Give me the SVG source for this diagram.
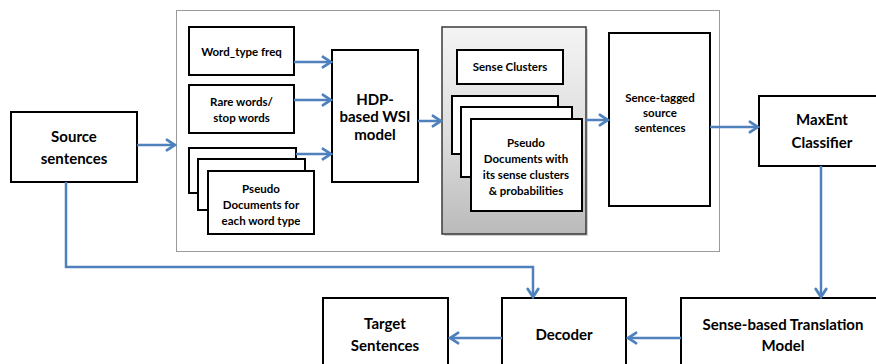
<svg xmlns="http://www.w3.org/2000/svg" width="876" height="364" viewBox="0 0 876 364">
  <defs>
    <linearGradient id="panelFill" x1="0" y1="0" x2="0" y2="1">
      <stop offset="0" stop-color="#f4f4f4"/>
      <stop offset="0.55" stop-color="#dcdcdc"/>
      <stop offset="1" stop-color="#bababa"/>
    </linearGradient>
    <marker id="ah" viewBox="0 0 12 14" refX="10" refY="7" markerWidth="12" markerHeight="14" markerUnits="userSpaceOnUse" orient="auto">
      <path d="M2,1.8 L10,7 L2,12.2" fill="none" stroke="#4f81bd" stroke-width="2.8" stroke-linecap="round" stroke-linejoin="miter"/>
    </marker>
  </defs>
  <style>
    .box{fill:#ffffff;stroke:#000000;stroke-width:2}
    .frame{fill:#ffffff;stroke:#9a9a9a;stroke-width:1}
    .panel{fill:url(#panelFill);stroke:#3a3a3a;stroke-width:1.5}
    .t{font-family:Lato,"Liberation Sans",sans-serif;font-weight:bold;fill:#000000;text-anchor:middle}
    .s11{font-size:11.5px}
    .s14{font-size:15px}
    .conn{fill:none;stroke:#4f81bd;stroke-width:2.5;marker-end:url(#ah)}
  </style>

  <rect width="876" height="364" fill="#ffffff"/>

  <!-- WSI pipeline frame -->
  <g id="wsi-frame">
    <rect class="frame" x="176.5" y="10.5" width="543" height="241"/>
  </g>

  <g id="source">
    <rect class="box" x="11" y="112" width="126" height="70"/>
    <text class="t s14" x="74" y="142">Source</text>
    <text class="t s14" x="74" y="164">sentences</text>
  </g>

  <g id="word-type-freq">
    <rect class="box" x="189" y="27" width="105" height="48"/>
    <text class="t s11" x="241.5" y="56">Word_type freq</text>
  </g>

  <g id="rare-words">
    <rect class="box" x="189" y="85" width="105" height="48"/>
    <text class="t s11" x="241.5" y="106">Rare words/</text>
    <text class="t s11" x="241.5" y="122">stop words</text>
  </g>

  <g id="pseudo-docs">
    <rect class="box" x="189" y="148" width="107" height="45"/>
    <rect class="box" x="198" y="159" width="107" height="51"/>
    <rect class="box" x="208" y="171" width="106" height="63"/>
    <text class="t s11" x="261" y="193">Pseudo</text>
    <text class="t s11" x="261" y="209">Documents for</text>
    <text class="t s11" x="261" y="225">each word type</text>
  </g>

  <g id="hdp-wsi">
    <rect class="box" x="332" y="50" width="86" height="132"/>
    <text class="t s14" x="375" y="105">HDP-</text>
    <text class="t s14" x="375" y="122">based WSI</text>
    <text class="t s14" x="375" y="140">model</text>
  </g>

  <g id="sense-panel">
    <rect x="444" y="29" width="144" height="207" fill="#9a9a9a" opacity="0.45"/>
    <rect class="panel" x="442" y="27" width="144" height="207"/>
  </g>

  <g id="sense-clusters">
    <rect class="box" x="457" y="50" width="106" height="34"/>
    <text class="t s11" x="510" y="71">Sense Clusters</text>
  </g>

  <g id="pseudo-senses">
    <rect class="box" x="452" y="96" width="106" height="58"/>
    <rect class="box" x="461" y="107" width="111" height="70"/>
    <rect class="box" x="471" y="119" width="111" height="92"/>
    <text class="t s11" x="526" y="147">Pseudo</text>
    <text class="t s11" x="526" y="163">Documents with</text>
    <text class="t s11" x="526" y="179">its sense  clusters</text>
    <text class="t s11" x="526" y="195">&amp; probabilities</text>
  </g>

  <g id="sense-tagged">
    <rect class="box" x="609" y="33" width="101" height="173"/>
    <text class="t s11" x="660" y="102">Sence-tagged</text>
    <text class="t s11" x="660" y="117">source</text>
    <text class="t s11" x="660" y="132">sentences</text>
  </g>

  <g id="maxent">
    <rect class="box" x="759" y="96" width="126" height="70"/>
    <text class="t s14" x="822" y="125">MaxEnt</text>
    <text class="t s14" x="822" y="148">Classifier</text>
  </g>

  <g id="target">
    <rect class="box" x="323" y="298" width="125" height="80"/>
    <text class="t s14" x="385" y="329">Target</text>
    <text class="t s14" x="385" y="351">Sentences</text>
  </g>

  <g id="decoder">
    <rect class="box" x="502" y="298" width="124" height="80"/>
    <text class="t s14" x="564" y="340">Decoder</text>
  </g>

  <g id="translation-model">
    <rect class="box" x="681" y="298" width="205" height="80"/>
    <text class="t s14" x="783" y="330">Sense-based Translation</text>
    <text class="t s14" x="783" y="351">Model</text>
  </g>

  <g id="connectors">
    <path class="conn" d="M137,145 H175"/>
    <path class="conn" d="M294,62 H331"/>
    <path class="conn" d="M294,100 H331"/>
    <path class="conn" d="M296,154 H331"/>
    <path class="conn" d="M418,121 H441"/>
    <path class="conn" d="M586,120 H608"/>
    <path class="conn" d="M710,127 H758"/>
    <path class="conn" d="M821,166 V297"/>
    <path class="conn" d="M681,338 H628"/>
    <path class="conn" d="M502,338 H450"/>
    <path class="conn" d="M66,182 V267 H533 V297"/>
  </g>
</svg>
